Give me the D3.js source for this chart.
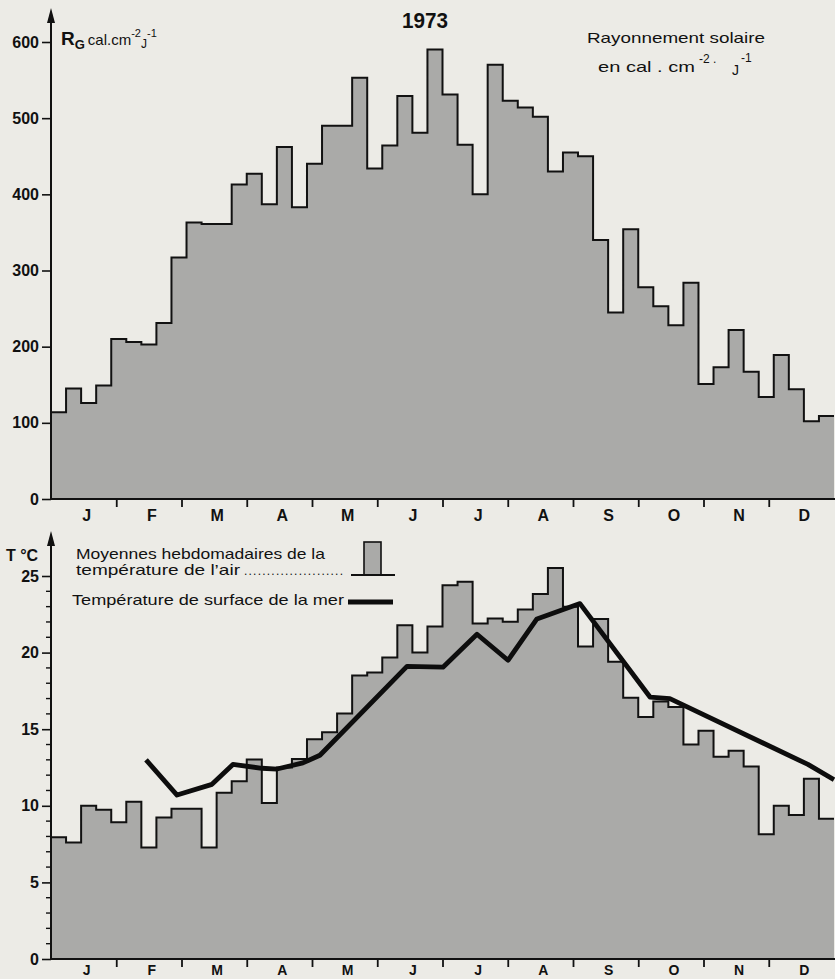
<!DOCTYPE html>
<html><head><meta charset="utf-8">
<script src="https://cdn.jsdelivr.net/npm/d3@7"></script>
<style>
body{margin:0;background:#ecebe6;}
svg{display:block;}
text{font-family:"Liberation Sans",Arial,sans-serif;fill:#111;}
</style></head><body>
<svg id="c" width="835" height="979"></svg>
<script>
// ---------- data ----------
const months = ["J","F","M","A","M","J","J","A","S","O","N","D"];
const radTicks = [0,100,200,300,400,500,600];
const tempTicks = [0,5,10,15,20,25];
const tempMinorTicks = d3.range(1,25);
// weekly mean global radiation 1973 (cal.cm-2.day-1), 52 weeks
const radiation = [114,145,126,149,210,206,203,231,317,363,
                   361,361,413,427,387,462,383,440,490,490,
                   553,434,464,529,481,590,531,465,400,570,
                   523,514,502,430,455,450,340,245,354,278,
                   253,228,284,151,173,222,167,134,189,144,
                   102,109];
// weekly mean air temperature (°C), 52 weeks
const airTemp = [7.95,7.6,10.0,9.74,8.93,10.27,7.27,9.24,9.8,9.8,
                 7.27,10.85,11.6,13.03,10.18,12.5,13.05,14.35,14.8,16.03,
                 18.5,18.7,19.68,21.78,20.0,21.7,24.4,24.62,21.9,22.22,
                 22.02,22.82,23.83,25.52,23.0,20.4,22.2,19.4,17.05,15.8,
                 16.8,16.45,14.0,14.9,13.2,13.6,12.57,8.15,10.0,9.4,
                 11.76,9.15];
// sea surface temperature: position in weeks since 1 Jan, value °C
const seaWeek = [6.31,8.37,10.69,12.08,14.01,15.01,16.73,17.86,23.64,26.03,28.29,30.35,32.27,35.13,39.78,41.1,50.27,52];
const seaTemp = [13.0,10.7,11.4,12.7,12.45,12.4,12.8,13.3,19.1,19.05,21.2,19.5,22.2,23.2,17.1,17.0,12.7,11.7];

// ---------- setup ----------
const svg = d3.select("#c");
const FILL = "#aaaaa8";
const x = d3.scaleLinear().domain([0,52]).range([51,834]);
const xm = d3.scaleLinear().domain([0,12]).range([51,834]);
const yTop = d3.scaleLinear().domain([0,600]).range([499,42]);
const yBot = d3.scaleLinear().domain([0,25]).range([959,576]);

const step = (arr) => arr.map((v,i)=>({w:i,v})).concat([{w:arr.length,v:arr[arr.length-1]}]);

function panel(arr, y, fillCol){
  const d = step(arr);
  svg.append("path").datum(d)
    .attr("d", d3.area().x(p=>x(p.w)).y0(y(0)).y1(p=>y(p.v)).curve(d3.curveStepAfter))
    .attr("fill", fillCol);
  svg.append("path").datum(d)
    .attr("d", d3.line().x(p=>x(p.w)).y(p=>y(p.v)).curve(d3.curveStepAfter))
    .attr("fill","none").attr("stroke","#111").attr("stroke-width",2);
}

panel(radiation, yTop, FILL);
panel(airTemp, yBot, FILL);

// sea surface temperature line
svg.append("path").datum(seaWeek.map((w,i)=>({w, v:seaTemp[i]})))
  .attr("d", d3.line().x(p=>x(p.w)).y(p=>yBot(p.v)))
  .attr("fill","none").attr("stroke","#0d0d0d").attr("stroke-width",4.8)
  .attr("stroke-linejoin","round");

// ---------- axes ----------
function yAxis(y, ticks, topTip){
  const g = svg.append("g").attr("transform","translate(51,0)")
    .call(d3.axisLeft(y).tickValues(ticks).tickSize(9).tickPadding(3).tickFormat(d3.format("d")));
  g.select(".domain").remove();
  g.selectAll("line").attr("stroke","#111").attr("stroke-width",1.6);
  g.selectAll("text").attr("font-size",16).attr("font-weight","bold").attr("fill","#111")
    .attr("font-family","'Liberation Sans',Arial,sans-serif");
  svg.append("line").attr("x1",51).attr("x2",51).attr("y1",y(0)).attr("y2",topTip+6)
    .attr("stroke","#111").attr("stroke-width",2);
  svg.append("path").attr("d",`M51,${topTip} L47,${topTip+15} L55,${topTip+15} Z`).attr("fill","#111");
}
yAxis(yTop, radTicks, 8);
yAxis(yBot, tempTicks, 531);
svg.append("g").selectAll("line").data(tempMinorTicks.filter(t=>t%5!==0)).join("line")
  .attr("x1",46).attr("x2",51).attr("y1",d=>yBot(d)).attr("y2",d=>yBot(d))
  .attr("stroke","#111").attr("stroke-width",1.4);

function xAxis(yPos, labelY, fs){
  const g = svg.append("g").attr("transform",`translate(0,${yPos})`)
    .call(d3.axisBottom(xm).tickValues(d3.range(1,12)).tickSize(8).tickFormat(""));
  g.select(".domain").remove();
  g.selectAll("line").attr("stroke","#111").attr("stroke-width",1.8);
  svg.append("line").attr("x1",51).attr("x2",835).attr("y1",yPos).attr("y2",yPos)
    .attr("stroke","#111").attr("stroke-width",2.2);
  svg.append("g").selectAll("text").data(months).join("text")
    .attr("x",(d,i)=>xm(i+0.5)+3).attr("y",labelY)
    .attr("text-anchor","middle").attr("font-size",fs).attr("font-weight","bold").text(d=>d);
}
xAxis(499, 521, 16);
xAxis(959, 975, 14);

// ---------- texts ----------
svg.append("text").attr("x",425).attr("y",28).attr("text-anchor","middle")
  .attr("font-family","'Liberation Sans Narrow','DejaVu Sans Condensed',sans-serif")
  .attr("font-size",22).attr("font-weight","bold").attr("textLength",46).attr("lengthAdjust","spacingAndGlyphs")
  .text("1973");

// RG label
const rg = svg.append("text").attr("x",61).attr("y",45).attr("font-size",15);
rg.append("tspan").attr("font-size",19).attr("font-weight","bold").text("R");
rg.append("tspan").attr("font-size",13).attr("font-weight","bold").attr("dy",4).text("G");
rg.append("tspan").attr("dy",-4).attr("dx",3).text("cal.cm");
rg.append("tspan").attr("font-size",11).attr("dy",-8).text("-2");
rg.append("tspan").attr("font-size",12).attr("dy",11).text("J");
rg.append("tspan").attr("font-size",11).attr("dy",-11).text("-1");

svg.append("text").attr("x",587).attr("y",43).attr("font-size",15)
  .attr("textLength",178).attr("lengthAdjust","spacingAndGlyphs").text("Rayonnement solaire");
svg.append("text").attr("x",598).attr("y",72).attr("font-size",15)
  .attr("textLength",97).attr("lengthAdjust","spacingAndGlyphs").text("en cal . cm");
svg.append("text").attr("x",699).attr("y",63).attr("font-size",12).text("-2 .");
svg.append("text").attr("x",732).attr("y",75).attr("font-size",14).text("J");
svg.append("text").attr("x",741).attr("y",62).attr("font-size",12).text("-1");

// T °C
svg.append("text").attr("x",6).attr("y",561).attr("font-size",16).attr("font-weight","bold").text("T °C");

// legend
svg.append("text").attr("x",76).attr("y",559).attr("font-size",15)
  .attr("textLength",249).attr("lengthAdjust","spacingAndGlyphs").text("Moyennes hebdomadaires de la");
svg.append("text").attr("x",76).attr("y",575).attr("font-size",15)
  .attr("textLength",164).attr("lengthAdjust","spacingAndGlyphs").text("température de l’air");
svg.append("text").attr("x",244).attr("y",575).attr("font-size",12)
  .attr("textLength",99).attr("lengthAdjust","spacing").text("......................");
svg.append("rect").attr("x",364).attr("y",542).attr("width",17).attr("height",33)
  .attr("fill",FILL).attr("stroke","#111").attr("stroke-width",1.6);
svg.append("line").attr("x1",351).attr("x2",395).attr("y1",575).attr("y2",575)
  .attr("stroke","#111").attr("stroke-width",1.8);
svg.append("text").attr("x",72).attr("y",605).attr("font-size",15)
  .attr("textLength",272).attr("lengthAdjust","spacingAndGlyphs").text("Température de surface de la mer");
svg.append("line").attr("x1",348).attr("x2",393).attr("y1",602).attr("y2",602)
  .attr("stroke","#0d0d0d").attr("stroke-width",4.8);
</script>
</body></html>
